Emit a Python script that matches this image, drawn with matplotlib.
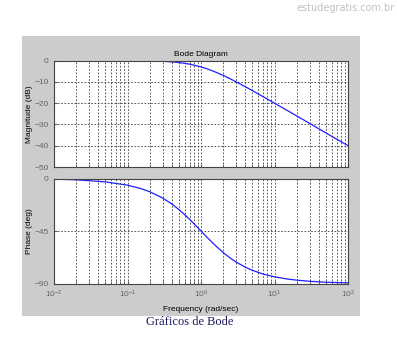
import numpy as np
import matplotlib
matplotlib.use("Agg")
import matplotlib.pyplot as plt
from matplotlib.ticker import LogLocator, NullFormatter

plt.rcParams["font.family"] = ["Liberation Sans", "DejaVu Sans"]

# values (G(s) = 1/(s+1) look)
freq = [0.01, 0.02, 0.05, 0.1, 0.15, 0.2, 0.3, 0.4, 0.5, 0.6, 0.7, 0.8, 1.0,
        1.2, 1.5, 2.0, 2.5, 3.0, 4.0, 5.0, 7.0, 10.0, 15.0, 20.0, 30.0, 50.0, 70.0, 100.0]
mag_db = [0.0, 0.0, -0.01, -0.04, -0.1, -0.17, -0.37, -0.64, -0.97, -1.34, -1.73, -2.15, -3.01,
          -3.87, -5.12, -6.99, -8.6, -10.0, -12.3, -14.15, -17.0, -20.04, -23.5, -26.0, -29.5, -34.0, -36.9, -40.0]
phase_deg = [-0.6, -1.1, -2.9, -5.7, -8.5, -11.3, -16.7, -21.8, -26.6, -31.0, -35.0, -38.7, -45.0,
             -50.2, -56.3, -63.4, -68.2, -71.6, -76.0, -78.7, -81.9, -84.3, -86.2, -87.1, -88.1, -88.9, -89.2, -89.4]

mag_ticks = [0, -10, -20, -30, -40, -50]
phase_ticks = [0, -45, -90]

PANEL = "#cccccc"
LINE = "#2020ff"
GRID = "#3a3a3a"

fig = plt.figure(figsize=(3.97, 3.38), dpi=100, facecolor="white")
W, H = 397, 338

# gray matlab-style panel behind the two axes
bg = fig.add_axes([22 / W, 1 - 316 / H, (360 - 22) / W, (316 - 36) / H], zorder=-5)
bg.set_facecolor(PANEL)
bg.set_xticks([])
bg.set_yticks([])
for spine in bg.spines.values():
    spine.set_visible(False)

ax1 = fig.add_axes([54 / W, 1 - 167 / H, (348 - 54) / W, (167 - 60.5) / H])
ax2 = fig.add_axes([54 / W, 1 - 283.5 / H, (348 - 54) / W, (283.5 - 178.5) / H])

for ax in (ax1, ax2):
    ax.set_facecolor("white")
    ax.set_xscale("log")
    ax.set_xlim(1e-2, 1e2)
    ax.xaxis.set_major_locator(LogLocator(base=10, numticks=10))
    ax.xaxis.set_minor_locator(LogLocator(base=10, subs=np.arange(2, 10), numticks=100))
    ax.xaxis.set_minor_formatter(NullFormatter())
    ax.grid(True, which="both", axis="x", linestyle=(0, (2, 2)), color=GRID, lw=0.6)
    ax.grid(True, which="major", axis="y", linestyle=(0, (2, 2)), color=GRID, lw=0.6)
    ax.tick_params(which="both", direction="in", length=2, labelsize=6,
                   colors="#555555", labelcolor="#666666", pad=4)
    for spine in ax.spines.values():
        spine.set_color("#444444")
        spine.set_linewidth(0.8)

ax1.plot(freq, mag_db, color=LINE, lw=0.9)
ax1.set_ylim(-50, 0)
ax1.set_yticks(mag_ticks)
ax1.set_xticklabels([])
ax1.set_ylabel("Magnitude (dB)", fontsize=6, labelpad=1)
ax1.set_title("Bode Diagram", fontsize=6, pad=3)

ax2.plot(freq, phase_deg, color=LINE, lw=0.9)
ax2.set_ylim(-90, 0)
ax2.set_yticks(phase_ticks)
ax2.set_ylabel("Phase (deg)", fontsize=6, labelpad=1)
ax2.set_xlabel("Frequency (rad/sec)", fontsize=6, labelpad=4)

fig.text(190 / W, 1 - 322 / H, "Gráficos de Bode", ha="center", va="center",
         fontsize=9, family="Liberation Serif", color="#1c1c5c")
fig.text(346 / W, 1 - 8 / H, "estudegratis.com.br", ha="center", va="center",
         fontsize=7, family="DejaVu Sans", color="#c0c0c0")

fig.savefig("out.png", dpi=100, facecolor="white")
